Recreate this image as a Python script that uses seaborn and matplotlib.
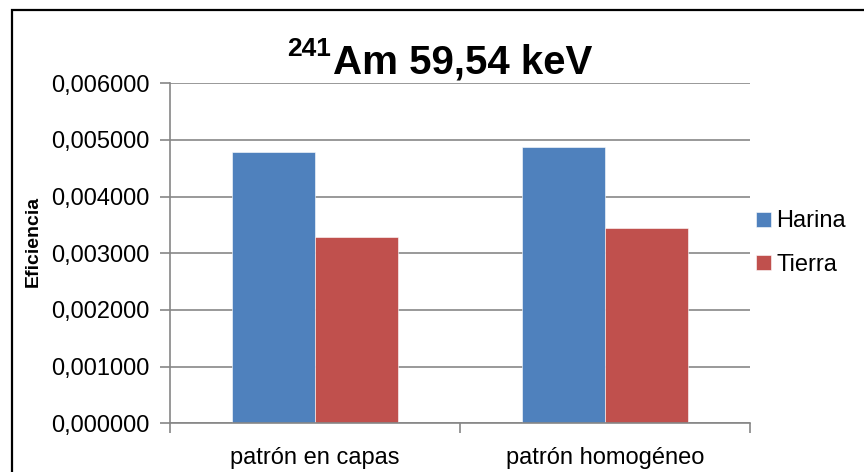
import matplotlib
matplotlib.use("Agg")
import matplotlib.pyplot as plt
import matplotlib.ticker as mticker
from matplotlib.patches import Rectangle
import seaborn as sns
import pandas as pd

# Efficiency of the 59.54 keV line for both standard preparations
categories = ["patrón en capas", "patrón homogéneo"]
series = ["Harina", "Tierra"]
harina = [0.00479, 0.00488]
tierra = [0.00329, 0.00344]
yticks = [0.0, 0.001, 0.002, 0.003, 0.004, 0.005, 0.006]

colors = {"Harina": "#4F81BD", "Tierra": "#C0504D"}

df = pd.DataFrame({
    "patron": categories * 2,
    "serie": ["Harina"] * len(categories) + ["Tierra"] * len(categories),
    "eficiencia": harina + tierra,
})

sns.set_theme(style="white")
plt.rcParams["font.family"] = ["Liberation Sans", "DejaVu Sans"]
plt.rcParams["text.color"] = "black"

fig = plt.figure(figsize=(8.64, 4.72), dpi=100)
ax = fig.add_axes([170 / 864, 1 - 423.3 / 472, 580 / 864, 340 / 472])

sns.barplot(data=df, x="patron", y="eficiencia", hue="serie",
            order=categories, hue_order=series, palette=colors,
            width=0.573, gap=0, saturation=1, ax=ax, legend=True,
            edgecolor="#FFFFFF", linewidth=0.4)

ax.set_xlim(-0.5, 1.5)
ax.set_ylim(0, 0.006)
ax.set_yticks(yticks)
ax.yaxis.set_major_formatter(
    mticker.FuncFormatter(lambda v, _: f"{v:.6f}".replace(".", ",")))
ax.grid(axis="y", color="#878787", linewidth=1.2)
ax.set_axisbelow(True)

for side in ("top", "right"):
    ax.spines[side].set_visible(False)
for side in ("left", "bottom"):
    ax.spines[side].set_color("#868686")
    ax.spines[side].set_linewidth(1.2)

ax.tick_params(axis="y", which="major", direction="out", length=7,
               width=1.2, color="#868686", labelsize=17, pad=8,
               left=True, labelcolor="black")
ax.tick_params(axis="x", which="both", bottom=False, labelsize=17,
               pad=11, labelcolor="black")
# category boundary ticks on the horizontal axis
ax.set_xticks([-0.5, 0.5, 1.5], minor=True)
ax.tick_params(axis="x", which="minor", bottom=True, direction="out",
               length=7, width=1.2, color="#868686")

ax.set_xlabel("")
ax.set_ylabel("Eficiencia", fontsize=14, fontweight="bold",
              color="black")
ax.yaxis.set_label_coords((33 - 170) / 580, (423.3 - 241) / 340)
ax.yaxis.label.set_verticalalignment("center")

# legend on the right
handles, labels = ax.get_legend_handles_labels()
ax.legend(handles, labels, loc="center left",
          bbox_to_anchor=(747 / 864, 1 - 243 / 472),
          bbox_transform=fig.transFigure, frameon=False, fontsize=17,
          handlelength=0.6, handleheight=0.6, handletextpad=0.25,
          labelspacing=0.9, borderaxespad=0)

# title with the mass number as a raised prefix
fig.canvas.draw()
renderer = fig.canvas.get_renderer()
main = fig.text(0, 0, "Am 59,54 keV", fontsize=29, fontweight="bold",
                ha="left", va="baseline", color="black")
sup = fig.text(0, 0, "241", fontsize=19, fontweight="bold",
               ha="left", va="baseline", color="black")
wm = main.get_window_extent(renderer).width
ws = sup.get_window_extent(renderer).width
total = wm + ws + 2
x0 = (440 - total / 2) / 864
base = 1 - 73 / 472
sup.set_position((x0, base + 17 / 472))
main.set_position((x0 + (ws + 2) / 864, base))

# chart frame
fig.patches.append(Rectangle((12 / 864, -0.1), 2.0, 1 - 10 / 472 + 0.1,
                             transform=fig.transFigure, fill=False,
                             edgecolor="black", linewidth=1.6))

fig.savefig("out.png", dpi=100, facecolor="white")
